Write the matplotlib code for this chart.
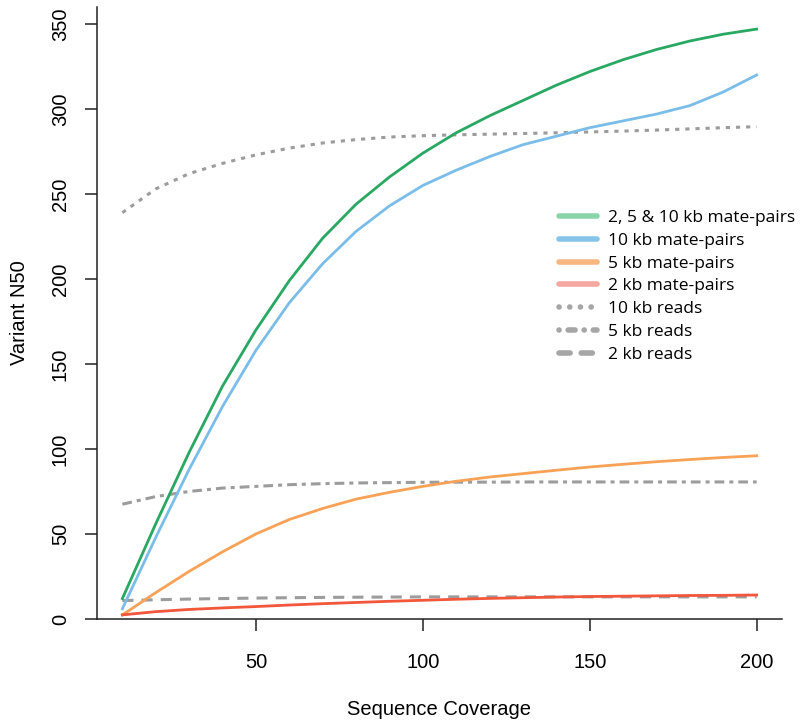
import matplotlib
matplotlib.use('Agg')
import matplotlib.pyplot as plt
from matplotlib.lines import Line2D

# Sequence coverage (x) and variant N50 per library setup
coverage = [10, 20, 30, 40, 50, 60, 70, 80, 90, 100,
            110, 120, 130, 140, 150, 160, 170, 180, 190, 200]

mp_all = [12, 56, 98, 137, 170, 199, 224, 244, 260, 274,
          286, 296, 305, 314, 322, 329, 335, 340, 344, 347]
mp_10kb = [6, 48, 88, 125, 158, 186, 209, 228, 243, 255,
           264, 272, 279, 284, 289, 293, 297, 302, 310, 320]
mp_5kb = [2.4, 15.5, 28, 39.5, 50, 58.5, 65, 70.5, 74.5, 78,
          81, 83.5, 85.5, 87.5, 89.4, 91, 92.5, 93.8, 95, 96]
mp_2kb = [2.4, 4.3, 5.6, 6.5, 7.3, 8.2, 9.0, 9.7, 10.4, 11,
          11.6, 12.1, 12.5, 12.9, 13.2, 13.4, 13.6, 13.8, 13.9, 14.1]
reads_10kb = [239, 253, 262, 268, 273, 277, 280, 282, 283.5, 284.3,
              284.8, 285.2, 285.6, 286, 286.5, 287, 287.6, 288.3, 289, 289.6]
reads_5kb = [67.5, 72, 75, 77, 78, 79, 79.6, 80, 80.2, 80.4,
             80.5, 80.5, 80.6, 80.6, 80.6, 80.6, 80.6, 80.6, 80.6, 80.6]
reads_2kb = [10.8, 11.3, 11.7, 12, 12.3, 12.5, 12.7, 12.8, 12.9, 13,
             13, 13, 13, 13, 13, 13, 13, 13, 13, 13]

labels = ['2, 5 & 10 kb mate-pairs', '10 kb mate-pairs', '5 kb mate-pairs',
          '2 kb mate-pairs', '10 kb reads', '5 kb reads', '2 kb reads']

line_cols = ['#28a862', '#7abde9', '#f7a257', '#f2563b']
leg_cols = ['#88d4ab', '#87c4ea', '#f5b680', '#f5a6a1']
grey = '#9c9c9c'

plt.rcParams['font.family'] = ['Liberation Sans', 'DejaVu Sans']
plt.rcParams['lines.scale_dashes'] = False

dot = (0, (3, 4.3))
dotdash = (0, (7, 3.6, 2.9, 3.6))
dash = (0, (8, 5.8))

fig = plt.figure(figsize=(8, 7.22), dpi=100)
ax = fig.add_axes([0.12125, 0.1427, 0.85625, 0.8476])

ax.plot(coverage, reads_10kb, color=grey, lw=2.2, ls=dot)
ax.plot(coverage, reads_5kb, color=grey, lw=2.2, ls=dotdash)
ax.plot(coverage, reads_2kb, color=grey, lw=2.2, ls=dash)
ax.plot(coverage, mp_all, color=line_cols[0], lw=2)
ax.plot(coverage, mp_10kb, color=line_cols[1], lw=2)
ax.plot(coverage, mp_5kb, color=line_cols[2], lw=2)
ax.plot(coverage, mp_2kb, color=line_cols[3], lw=2)

ax.set_xlim(2.4, 207.6)
ax.set_ylim(0, 360)
ax.set_xticks([50, 100, 150, 200])
ax.set_yticks([0, 50, 100, 150, 200, 250, 300, 350])

for s in ['top', 'right']:
    ax.spines[s].set_visible(False)
for s in ['left', 'bottom']:
    ax.spines[s].set_linewidth(1.1)
    ax.spines[s].set_color('#222222')

ax.tick_params(axis='both', length=8.5, width=1.1, color='#222222',
               labelsize=14.5)
ax.tick_params(axis='x', pad=16)
ax.tick_params(axis='y', pad=11)
for t in ax.get_yticklabels():
    t.set_rotation(90)
    t.set_va('center')

ax.set_xlabel('Sequence Coverage', fontsize=14.5, labelpad=20)
ax.set_ylabel('Variant N50', fontsize=14.5, labelpad=16)

# legend with lighter, thicker handles
handles = [Line2D([], [], color=c, lw=4, solid_capstyle='round') for c in leg_cols]
handles += [
    Line2D([], [], color='#a6a6a6', lw=4, ls=(0, (0.1, 7.6)), dash_capstyle='round'),
    Line2D([], [], color='#a6a6a6', lw=4, ls=(0, (0.1, 6.5, 5, 6.5)), dash_capstyle='round'),
    Line2D([], [], color='#a6a6a6', lw=4, ls=(0, (8, 8)), dash_capstyle='round'),
]
leg = ax.legend(handles, labels, loc='upper left',
                bbox_to_anchor=(559 / 800, 1 - 210 / 722),
                bbox_transform=fig.transFigure, frameon=False,
                prop={'family': 'Open Sans', 'size': 12.5},
                handlelength=2.2, handletextpad=0.63, labelspacing=0.38,
                borderpad=0, borderaxespad=0)

fig.savefig('out.png', dpi=100)
